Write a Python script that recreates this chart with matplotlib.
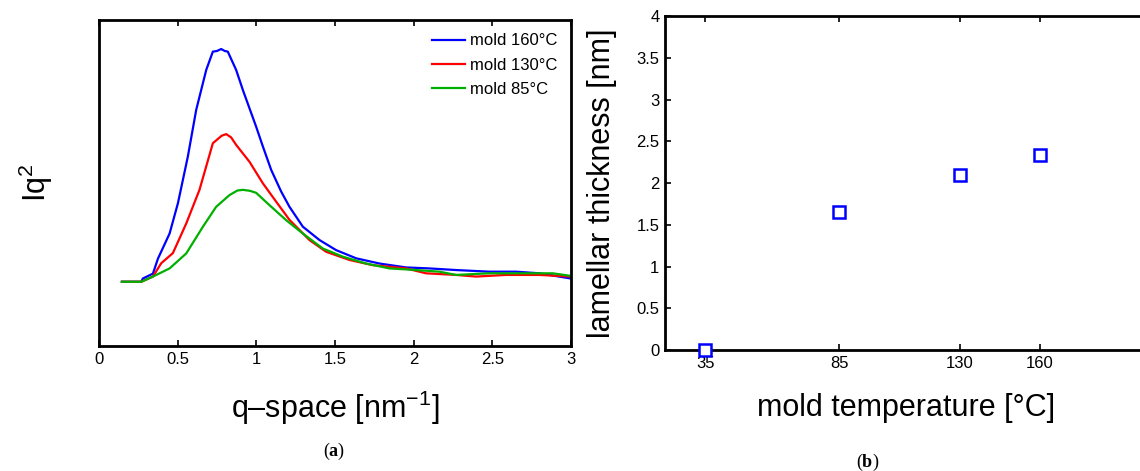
import numpy as np
import matplotlib
matplotlib.use('Agg')
import matplotlib.pyplot as plt

plt.rcParams['font.family'] = ['Liberation Sans', 'DejaVu Sans']
plt.rcParams['mathtext.fontset'] = 'custom'
plt.rcParams['mathtext.rm'] = 'Liberation Sans'
plt.rcParams['mathtext.bf'] = 'Liberation Serif:bold'

# (a) Iq^2 profiles, y in arbitrary units (axis has no ticks)
q_160 = [0.146, 0.269, 0.279, 0.343, 0.375, 0.449, 0.502, 0.565, 0.618, 0.682, 0.724, 0.750, 0.777, 0.800, 0.819,
         0.872, 0.915, 0.957, 0.999, 1.042, 1.095, 1.158, 1.211, 1.296, 1.402, 1.508, 1.635, 1.783, 1.952,
         2.100, 2.270, 2.481, 2.651, 2.799, 3.0]
iq_160 = [0.197, 0.197, 0.207, 0.222, 0.268, 0.345, 0.438, 0.581, 0.724, 0.847, 0.903, 0.905, 0.911, 0.905, 0.903,
          0.847, 0.785, 0.729, 0.673, 0.612, 0.540, 0.474, 0.427, 0.366, 0.325, 0.294, 0.269, 0.253, 0.241,
          0.238, 0.233, 0.228, 0.228, 0.223, 0.207]

q_130 = [0.146, 0.269, 0.343, 0.396, 0.470, 0.555, 0.639, 0.724, 0.780, 0.809, 0.840, 0.872, 0.957, 1.042,
         1.126, 1.211, 1.338, 1.444, 1.592, 1.740, 1.952, 2.079, 2.270, 2.397, 2.587, 2.799, 3.0]
iq_130 = [0.197, 0.197, 0.213, 0.254, 0.285, 0.376, 0.479, 0.622, 0.645, 0.650, 0.640, 0.617, 0.565, 0.499,
          0.443, 0.387, 0.325, 0.289, 0.264, 0.248, 0.238, 0.223, 0.218, 0.213, 0.218, 0.218, 0.213]

q_85 = [0.146, 0.269, 0.343, 0.449, 0.555, 0.661, 0.745, 0.830, 0.880, 0.915, 0.960, 0.999, 1.084, 1.190,
        1.296, 1.423, 1.550, 1.698, 1.846, 2.016, 2.164, 2.270, 2.481, 2.693, 2.884, 3.0]
iq_85 = [0.197, 0.197, 0.213, 0.238, 0.284, 0.366, 0.427, 0.463, 0.477, 0.479, 0.476, 0.470, 0.432, 0.386,
         0.345, 0.299, 0.274, 0.253, 0.238, 0.233, 0.228, 0.218, 0.223, 0.223, 0.223, 0.215]

labels_a = ['mold 160°C', 'mold 130°C', 'mold 85°C']
colors_a = ['#0000ff', '#ff0000', '#00b000']

# (b) lamellar thickness vs mold temperature
mold_temp = [35, 85, 130, 160]
thickness = [0.0, 1.65, 2.09, 2.33]

fig = plt.figure(figsize=(11.4, 4.71), dpi=100)

ax1 = fig.add_axes([0.0868, 0.2654, 0.4140, 0.6921])
for q, iq, lab, c in zip([q_160, q_130, q_85], [iq_160, iq_130, iq_85], labels_a, colors_a):
    ax1.plot(q, iq, color=c, lw=1.6, label=lab)
ax1.set_xlim(0, 3)
ax1.set_ylim(0, 1)
ax1.set_xticks(np.arange(0, 3.01, 0.5))
ax1.set_xticklabels(['0', '0.5', '1', '1.5', '2', '2.5', '3'])
ax1.set_yticks([])
ax1.tick_params(axis='x', direction='in', top=True, length=4, width=1.2, labelsize=12, pad=4)
ax1.set_xlabel('q–space [nm$^{-1}$]', fontsize=22, labelpad=16)
ax1.set_ylabel('Iq$^2$', fontsize=22, labelpad=32)
ax1.legend(loc='upper right', frameon=False, fontsize=12, handlelength=2.0, handletextpad=0.3,
           labelspacing=0.55, borderaxespad=0.5, borderpad=0.3)
for s in ax1.spines.values():
    s.set_linewidth(2)

ax2 = fig.add_axes([0.5833, 0.2569, 0.4228, 0.7091])
ax2.plot(mold_temp, thickness, ls='none', marker='s', ms=8, mfc='white', mec='#0000ff', mew=1.8,
         clip_on=False, zorder=5)
ax2.set_xlim(20, 200)
ax2.set_ylim(0, 4)
ax2.set_xticks(mold_temp)
ax2.set_yticks(np.arange(0, 4.01, 0.5))
ax2.set_yticklabels(['0', '0.5', '1', '1.5', '2', '2.5', '3', '3.5', '4'])
ax2.tick_params(direction='in', top=True, right=True, length=4, width=1.2, labelsize=12, pad=4)
ax2.set_xlabel('mold temperature [°C]', fontsize=22, labelpad=16)
ax2.set_ylabel('lamellar thickness [nm]', fontsize=22, labelpad=14)
for s in ax2.spines.values():
    s.set_linewidth(2)

fig.text(334 / 1140, 1 - 451 / 471, r'($\mathbf{a}$)', ha='center', va='center', fontsize=13,
         family='Liberation Serif')
fig.text(868 / 1140, 1 - 462 / 471, r'($\mathbf{b}$)', ha='center', va='center', fontsize=13,
         family='Liberation Serif')

fig.savefig('out.png', dpi=100)
